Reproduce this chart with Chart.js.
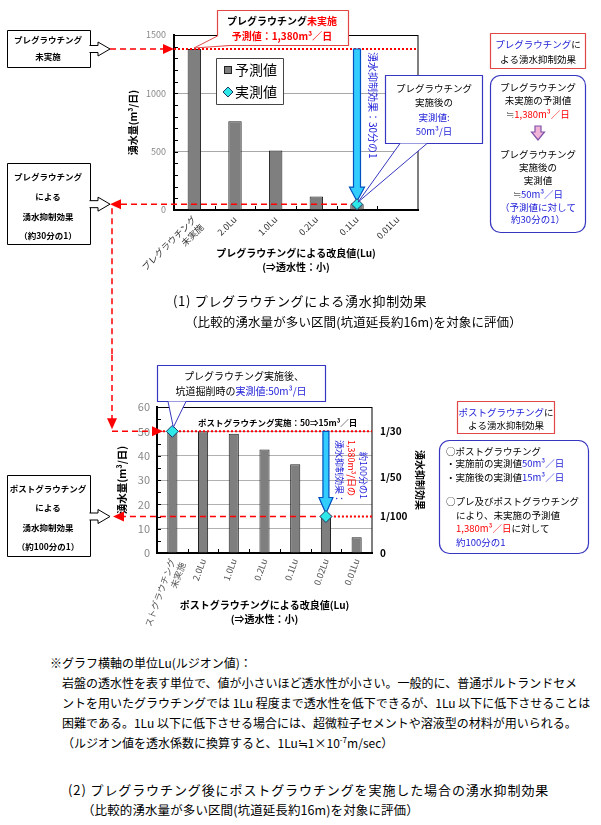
<!DOCTYPE html>
<html>
<head>
<meta charset="utf-8">
<script src="https://cdn.jsdelivr.net/npm/chart.js@4.4.0/dist/chart.umd.min.js"></script>
<style>
body { margin:0; background:#fff; width:601px; height:825px; position:relative; overflow:hidden; font-family:'Noto Sans CJK JP', sans-serif; }
canvas { position:absolute; left:0; }
#preChart { top:0; }
#postChart { top:355px; }
.txt { position:absolute; white-space:pre; color:#000; font-size:13px; line-height:20px; }
.txt sup { font-size:8px; line-height:0; }
</style>
</head>
<body>
<canvas id="preChart" width="601" height="355"></canvas>
<canvas id="postChart" width="601" height="285"></canvas>

<div class="txt" style="left:173px;top:291px;letter-spacing:0.7px">(1) プレグラウチングによる湧水抑制効果</div>
<div class="txt" style="left:185px;top:312px;font-size:12.5px;letter-spacing:0.1px">（比較的湧水量が多い区間(坑道延長約16m)を対象に評価）</div>

<div class="txt" style="left:50px;top:653px;font-size:12px">※グラフ横軸の単位Lu(ルジオン値)：</div>
<div class="txt" style="left:62px;top:673px;font-size:12px">岩盤の透水性を表す単位で、値が小さいほど透水性が小さい。一般的に、普通ポルトランドセメ</div>
<div class="txt" style="left:62px;top:693px;font-size:12px">ントを用いたグラウチングでは 1Lu 程度まで透水性を低下できるが、1Lu 以下に低下させることは</div>
<div class="txt" style="left:62px;top:713px;font-size:12px">困難である。1Lu 以下に低下させる場合には、超微粒子セメントや溶液型の材料が用いられる。</div>
<div class="txt" style="left:62px;top:733px;font-size:12px">（ルジオン値を透水係数に換算すると、1Lu≒1×10<sup>-7</sup>m/sec）</div>

<div class="txt" style="left:68px;top:780px;letter-spacing:0.9px">(2) プレグラウチング後にポストグラウチングを実施した場合の湧水抑制効果</div>
<div class="txt" style="left:82px;top:800px;font-size:12.5px;letter-spacing:0.1px">（比較的湧水量が多い区間(坑道延長約16m)を対象に評価）</div>

<script>
// (1) pre-grouting chart data
const preLabels = [['プレグラウチング', '未実施'], '2.0Lu', '1.0Lu', '0.2Lu', '0.1Lu', '0.01Lu'];
const prePredicted = [1380, 760, 510, 115, 50, 5];
const preMeasured = [null, null, null, null, 50, null];
const preYTicks = [0, 500, 1000, 1500];

// (2) post-grouting chart data
const postLabels = [['ポストグラウチング', '未実施'], '2.0Lu', '1.0Lu', '0.2Lu', '0.1Lu', '0.02Lu', '0.01Lu'];
const postPredicted = [50, 50, 49, 42.5, 36.5, 15, 6.5];
const postMeasured = [50, null, null, null, null, 15, null];
const postYTicks = [0, 10, 20, 30, 40, 50, 60];
const ratioTicks = [0, 15, 31, 50];
const ratioLabels = ['0', '1/100', '1/50', '1/30'];

const JP = "'Noto Sans CJK JP', sans-serif";
const RED = '#ff0000';
const BLUE = '#1c1cd8';
const BOXBLUE = '#3636c0';
const BOXRED = '#e04848';
const CYAN = '#2ee8e8';

Chart.defaults.font.family = JP;

// ---- drawing helpers ----
function rich(ctx, segs, x, y, align) {
  align = align || 'center';
  let total = 0;
  segs.forEach(s => { total += ctx.measureText(s[0]).width; });
  let cx = align === 'center' ? x - total / 2 : (align === 'right' ? x - total : x);
  ctx.textAlign = 'left';
  ctx.textBaseline = 'middle';
  segs.forEach(s => {
    ctx.fillStyle = s[1];
    ctx.fillText(s[0], cx, y);
    cx += ctx.measureText(s[0]).width;
  });
}

function vText(ctx, segs, x, y) {
  ctx.save();
  ctx.translate(x, y);
  ctx.rotate(Math.PI / 2);
  rich(ctx, segs, 0, 0, 'left');
  ctx.restore();
}

function roundRect(ctx, x, y, w, h, r) {
  ctx.beginPath();
  ctx.moveTo(x + r, y);
  ctx.arcTo(x + w, y, x + w, y + h, r);
  ctx.arcTo(x + w, y + h, x, y + h, r);
  ctx.arcTo(x, y + h, x, y, r);
  ctx.arcTo(x, y, x + w, y, r);
  ctx.closePath();
}

function noteBox(ctx, x, y, w, h, color, lw, r) {
  ctx.save();
  roundRect(ctx, x + 0.5, y + 0.5, w, h, r || 0.01);
  ctx.fillStyle = '#fff';
  ctx.fill();
  ctx.strokeStyle = color;
  ctx.lineWidth = lw || 1;
  ctx.stroke();
  ctx.restore();
}

function tail(ctx, p0, tip, p2, color) {
  ctx.save();
  ctx.beginPath();
  ctx.moveTo(p0[0], p0[1]);
  ctx.lineTo(tip[0], tip[1]);
  ctx.lineTo(p2[0], p2[1]);
  ctx.fillStyle = '#fff';
  ctx.fill();
  ctx.strokeStyle = color;
  ctx.lineWidth = 1;
  ctx.stroke();
  ctx.restore();
}

function hollowArrow(ctx, x0, y, x1) {
  ctx.save();
  ctx.beginPath();
  ctx.moveTo(x0, y - 3.5);
  ctx.lineTo(x1 - 12, y - 3.5);
  ctx.lineTo(x1 - 12, y - 7);
  ctx.lineTo(x1, y);
  ctx.lineTo(x1 - 12, y + 7);
  ctx.lineTo(x1 - 12, y + 3.5);
  ctx.lineTo(x0, y + 3.5);
  ctx.fillStyle = '#fff';
  ctx.fill();
  ctx.strokeStyle = '#000';
  ctx.lineWidth = 1;
  ctx.stroke();
  ctx.restore();
}

function redLine(ctx, x0, y0, x1, y1, dotted) {
  ctx.save();
  ctx.beginPath();
  ctx.moveTo(x0, y0);
  ctx.lineTo(x1, y1);
  ctx.strokeStyle = RED;
  ctx.lineWidth = dotted ? 2 : 1.5;
  ctx.setLineDash(dotted ? [2, 2] : [6, 4]);
  ctx.stroke();
  ctx.restore();
}

function redHead(ctx, x, y, dir) {
  // dir: 'right' | 'left' | 'down', (x,y) is the tip
  ctx.save();
  ctx.beginPath();
  if (dir === 'right') { ctx.moveTo(x, y); ctx.lineTo(x - 11, y - 5); ctx.lineTo(x - 11, y + 5); }
  if (dir === 'left') { ctx.moveTo(x, y); ctx.lineTo(x + 11, y - 5); ctx.lineTo(x + 11, y + 5); }
  if (dir === 'down') { ctx.moveTo(x, y); ctx.lineTo(x - 5, y - 11); ctx.lineTo(x + 5, y - 11); }
  ctx.closePath();
  ctx.fillStyle = RED;
  ctx.fill();
  ctx.restore();
}

function blockArrow(ctx, x, y0, y1, fill, stroke, sw, hw, hh) {
  ctx.save();
  ctx.beginPath();
  ctx.moveTo(x - sw, y0);
  ctx.lineTo(x + sw, y0);
  ctx.lineTo(x + sw, y1 - hh);
  ctx.lineTo(x + hw, y1 - hh);
  ctx.lineTo(x, y1);
  ctx.lineTo(x - hw, y1 - hh);
  ctx.lineTo(x - sw, y1 - hh);
  ctx.closePath();
  ctx.fillStyle = fill;
  ctx.fill();
  ctx.strokeStyle = stroke;
  ctx.lineWidth = 1.2;
  ctx.stroke();
  ctx.restore();
}

function boxLabel(ctx, scale, index, color, padX) {
  const item = scale.getLabelItems()[index];
  const o = item.options;
  ctx.save();
  ctx.font = item.font.string;
  const w = ctx.measureText(item.label).width;
  const h = item.font.size + 3;
  ctx.translate(o.translation[0], o.translation[1]);
  ctx.rotate(o.rotation);
  const x0 = o.textAlign === 'right' ? -w : (o.textAlign === 'center' ? -w / 2 : 0);
  ctx.strokeStyle = color;
  ctx.lineWidth = 1.5;
  ctx.strokeRect(x0 - padX, o.textOffset - h / 2 - 1, w + padX * 2, h + 2);
  ctx.restore();
}

function minorTicks(ctx, chart, step, max) {
  const a = chart.chartArea, x = chart.scales.x, y = chart.scales.y;
  ctx.save();
  ctx.strokeStyle = '#000';
  ctx.lineWidth = 1;
  ctx.beginPath();
  for (let v = step; v < max; v += step) {
    const py = Math.round(y.getPixelForValue(v)) + 0.5;
    ctx.moveTo(a.left, py);
    ctx.lineTo(a.left + 4, py);
  }
  const n = chart.data.labels.length;
  for (let i = 1; i < n; i++) {
    const px = Math.round((x.getPixelForValue(i - 1) + x.getPixelForValue(i)) / 2) + 0.5;
    ctx.moveTo(px, a.bottom);
    ctx.lineTo(px, a.bottom - 4);
  }
  ctx.stroke();
  // frame top/right
  ctx.strokeRect(a.left, Math.round(a.top) + 0.5, a.right - a.left, a.bottom - a.top);
  ctx.restore();
}

// ---- chart (1) notes ----
const preNotes = {
  id: 'preNotes',
  afterDatasetDraw(chart, args) {
    if (args.index !== 0) return;
    const ctx = chart.ctx, a = chart.chartArea, x = chart.scales.x, y = chart.scales.y;
    const yTop = y.getPixelForValue(prePredicted[0]);
    const yMeas = y.getPixelForValue(preMeasured[4]);
    const xMeas = x.getPixelForValue(4);
    minorTicks(ctx, chart, 100, 1500);

    redLine(ctx, 110, yTop, a.left - 8, yTop);
    redHead(ctx, a.left, yTop, 'right');
    redLine(ctx, a.left, yTop, a.right, yTop, true);

    redLine(ctx, xMeas, yMeas, 118, yMeas);
    redHead(ctx, 110, yMeas, 'left');
    redLine(ctx, 112, yMeas + 4, 112, chart.height);

    blockArrow(ctx, xMeas, yTop, yMeas - 3, '#33ccff', '#0050c0', 3.5, 7.5, 14);
  },
  afterDraw(chart) {
    const ctx = chart.ctx, x = chart.scales.x, y = chart.scales.y;
    const yTop = y.getPixelForValue(prePredicted[0]);
    const yMeas = y.getPixelForValue(preMeasured[4]);
    const xMeas = x.getPixelForValue(4);

    // left notes
    noteBox(ctx, 7, 30, 83, 37, '#000');
    hollowArrow(ctx, 89.5, yTop, 110);
    ctx.font = 'bold 8.5px ' + JP;
    rich(ctx, [['プレグラウチング', '#000']], 48, 40);
    rich(ctx, [['未実施', '#000']], 48, 57);

    noteBox(ctx, 7, 163, 83, 81, '#000');
    hollowArrow(ctx, 89.5, yMeas, 110);
    rich(ctx, [['プレグラウチング', '#000']], 48, 177);
    rich(ctx, [['による', '#000']], 48, 197);
    rich(ctx, [['湧水抑制効果', '#000']], 48, 217);
    rich(ctx, [['（約30分の1）', '#000']], 48, 236);

    // predicted value callout
    noteBox(ctx, 217, 10, 131, 35, BOXRED, 1.2);
    tail(ctx, [217.5, 36], [194, yTop - 1], [230, 45.5], BOXRED);
    ctx.font = 'bold 10px ' + JP;
    rich(ctx, [['プレグラウチング', '#000'], ['未実施', RED]], 282, 21);
    rich(ctx, [['予測値：1,380m³／日', RED]], 282, 36);

    // legend
    noteBox(ctx, 216, 58, 67, 46, '#444');
    ctx.fillStyle = '#7f7f7f';
    ctx.fillRect(224, 66, 8, 8);
    ctx.strokeStyle = '#222';
    ctx.strokeRect(224.5, 66.5, 7, 7);
    ctx.save();
    ctx.beginPath();
    ctx.moveTo(228, 87); ctx.lineTo(233, 92); ctx.lineTo(228, 97); ctx.lineTo(223, 92);
    ctx.closePath();
    ctx.fillStyle = CYAN; ctx.fill();
    ctx.strokeStyle = '#1a3a6a'; ctx.stroke();
    ctx.restore();
    ctx.font = '14px ' + JP;
    rich(ctx, [[chart.data.datasets[0].label, '#000']], 235, 70, 'left');
    rich(ctx, [[chart.data.datasets[1].label, '#000']], 235, 92, 'left');

    // effect text along the arrow
    ctx.font = '10px ' + JP;
    vText(ctx, [['湧水抑制効果：30分の1', BLUE]], 373, 52);

    // measured value callout
    noteBox(ctx, 385, 75, 97, 68, BOXBLUE, 1.2);
    tail(ctx, [400, 143.5], [xMeas + 1, yMeas - 2], [427, 143.5], BOXBLUE);
    ctx.font = '9.5px ' + JP;
    rich(ctx, [['プレグラウチング', '#000']], 434, 88);
    rich(ctx, [['実施後の', '#000']], 434, 102);
    rich(ctx, [['実測値:', BLUE]], 434, 117);
    rich(ctx, [['50m³/日', BLUE]], 434, 131);

    // 0.1Lu label box
    boxLabel(ctx, x, 4, BOXBLUE, 4);

    // right summary
    noteBox(ctx, 490, 33, 95, 35, BOXRED, 1.2);
    ctx.font = '9.5px ' + JP;
    rich(ctx, [['プレグラウチング', BLUE], ['に', '#000']], 538, 44);
    rich(ctx, [['よる湧水抑制効果', '#000']], 538, 59);

    noteBox(ctx, 490, 75, 95, 157, BOXBLUE, 1.2, 10);
    rich(ctx, [['プレグラウチング', '#000']], 538, 87);
    rich(ctx, [['未実施の予測値', '#000']], 538, 100);
    rich(ctx, [['≒', '#888'], ['1,380m³／日', RED]], 538, 114);
    blockArrow(ctx, 538, 126, 140, '#f0b4d8', '#8050a8', 3, 6.5, 8);
    rich(ctx, [['プレグラウチング', '#000']], 538, 154);
    rich(ctx, [['実施後の', '#000']], 538, 167);
    rich(ctx, [['実測値', '#000']], 538, 180);
    rich(ctx, [['≒', '#888'], ['50m³／日', BLUE]], 538, 194);
    rich(ctx, [['（予測値に対して', BLUE]], 538, 207);
    rich(ctx, [['約30分の1）', BLUE]], 538, 219);
  }
};

// ---- chart (2) notes ----
const TOP2 = 355;
const postNotes = {
  id: 'postNotes',
  afterDatasetDraw(chart, args) {
    if (args.index !== 0) return;
    const ctx = chart.ctx, a = chart.chartArea, x = chart.scales.x, y = chart.scales.y;
    const y50 = y.getPixelForValue(postMeasured[0]);
    const y15 = y.getPixelForValue(postMeasured[5]);
    const x15 = x.getPixelForValue(5);
    minorTicks(ctx, chart, 5, 60);

    redLine(ctx, 112, 0, 112, y50 - 12);
    redHead(ctx, 112, y50 - 2, 'down');
    redLine(ctx, 112, y50, a.left - 4, y50);
    redHead(ctx, a.left + 6, y50, 'right');
    redLine(ctx, a.left + 6, y50, a.right, y50, true);

    redLine(ctx, x15, y15, 121, y15);
    redHead(ctx, 113, y15, 'left');
    redLine(ctx, x15, y15, a.right, y15, true);

    blockArrow(ctx, x15, y50, y15 - 3, '#33ccff', '#0050c0', 3, 7, 16);
  },
  afterDraw(chart) {
    const ctx = chart.ctx, x = chart.scales.x, y = chart.scales.y, y2 = chart.scales.y2;
    const y50 = y.getPixelForValue(postMeasured[0]);
    const y15 = y.getPixelForValue(postMeasured[5]);
    const x50 = x.getPixelForValue(0);
    const P = v => v - TOP2;

    // left note
    noteBox(ctx, 7, P(475), 83, 81, '#000');
    hollowArrow(ctx, 89.5, y15, 110);
    ctx.font = 'bold 8.5px ' + JP;
    rich(ctx, [['ポストグラウチング', '#000']], 48, P(489));
    rich(ctx, [['による', '#000']], 48, P(508));
    rich(ctx, [['湧水抑制効果', '#000']], 48, P(528));
    rich(ctx, [['（約100分の1）', '#000']], 48, P(547));

    // measured value callout
    noteBox(ctx, 157, P(365), 168, 36, BOXBLUE, 1.2);
    tail(ctx, [168, P(401.5)], [x50 + 1, y50 - 4], [186, P(401.5)], BOXBLUE);
    ctx.font = '10px ' + JP;
    rich(ctx, [['プレグラウチング実施後、', '#000']], 244, P(376));
    rich(ctx, [['坑道掘削時の', '#000'], ['実測値:50m³/日', BLUE]], 241, P(391));

    ctx.font = 'bold 8.5px ' + JP;
    rich(ctx, [['ポストグラウチング実施：50⇒15m³／日', '#000']], 198, P(423), 'left');

    // effect text along the arrow
    ctx.font = '9px ' + JP;
    vText(ctx, [['湧水抑制効果：', BLUE]], 339, P(440));
    vText(ctx, [['1,380m³/日の', RED]], 351, P(440));
    vText(ctx, [['約100分の1', BLUE]], 363, P(452));

    // boxed labels
    boxLabel(ctx, x, 5, BOXBLUE, 3);
    boxLabel(ctx, y2, ratioLabels.indexOf('1/30'), BOXRED, 3);
    boxLabel(ctx, y2, ratioLabels.indexOf('1/100'), BOXRED, 3);

    // right summary
    noteBox(ctx, 457, P(401), 97, 32, BOXRED, 1.2);
    ctx.font = '9.5px ' + JP;
    rich(ctx, [['ポストグラウチング', BLUE], ['に', '#000']], 506, P(412));
    rich(ctx, [['よる湧水抑制効果', '#000']], 506, P(425));

    noteBox(ctx, 439, P(440), 149, 113, BOXBLUE, 1.2, 10);
    rich(ctx, [['○ポストグラウチング', '#000']], 446, P(451), 'left');
    rich(ctx, [['・実施前の実測値', '#000'], ['50m³／日', BLUE]], 446, P(463), 'left');
    rich(ctx, [['・実施後の実測値', '#000'], ['15m³／日', BLUE]], 446, P(477), 'left');
    rich(ctx, [['○プレ及びポストグラウチング', '#000']], 446, P(501), 'left');
    rich(ctx, [['により、未実施の予測値', '#000']], 456, P(515), 'left');
    rich(ctx, [['1,380m³／日', RED], ['に対して', '#000']], 456, P(528), 'left');
    rich(ctx, [['約100分の1', BLUE]], 456, P(542), 'left');
  }
};

// ---- chart (1) ----
new Chart(document.getElementById('preChart'), {
  type: 'bar',
  data: {
    labels: preLabels,
    datasets: [
      {
        type: 'bar', label: '予測値', data: prePredicted,
        backgroundColor: '#7f7f7f', borderColor: '#222', borderWidth: 1,
        barPercentage: 0.33, categoryPercentage: 1, order: 2
      },
      {
        type: 'line', label: '実測値', data: preMeasured, showLine: false,
        pointStyle: 'rectRot', pointRadius: 5.5, pointBackgroundColor: CYAN,
        pointBorderColor: '#1a3a6a', pointBorderWidth: 1, order: 1
      }
    ]
  },
  options: {
    responsive: false, animation: false, devicePixelRatio: 1,
    layout: { padding: { left: 123, right: 183, top: 35, bottom: 81 } },
    plugins: { legend: { display: false }, tooltip: { enabled: false } },
    scales: {
      x: {
        grid: { display: false, drawTicks: false },
        border: { color: '#000', width: 2 },
        ticks: { autoSkip: false, minRotation: 45, maxRotation: 45, padding: 4, color: '#333', font: { size: 9 } },
        title: {
          display: true, text: ['プレグラウチングによる改良値(Lu)', '(⇒透水性：小)'],
          color: '#000', font: { size: 10, weight: 'bold', lineHeight: 1.4 }, padding: { top: 0, bottom: 0 }
        },
        afterFit(s) { s.height = 64; }
      },
      y: {
        min: 0, max: 1500,
        afterBuildTicks(s) { s.ticks = preYTicks.map(v => ({ value: v })); },
        grid: { color: '#a8a8a8', drawTicks: false },
        border: { color: '#000', width: 2 },
        ticks: { padding: 8, color: '#888', font: { size: 9 }, callback: v => String(v) },
        title: { display: true, text: '湧水量(m³/日)', color: '#000', font: { size: 10, weight: 'bold' } },
        afterFit(s) { s.width = 51; }
      }
    }
  },
  plugins: [preNotes]
});

// ---- chart (2) ----
new Chart(document.getElementById('postChart'), {
  type: 'bar',
  data: {
    labels: postLabels,
    datasets: [
      {
        type: 'bar', label: '予測値', data: postPredicted,
        backgroundColor: '#7f7f7f', borderColor: '#222', borderWidth: 1,
        barPercentage: 0.33, categoryPercentage: 1, order: 2
      },
      {
        type: 'line', label: '実測値', data: postMeasured, showLine: false,
        pointStyle: 'rectRot', pointRadius: 6, pointBackgroundColor: CYAN,
        pointBorderColor: '#1a3a6a', pointBorderWidth: 1, order: 1
      }
    ]
  },
  options: {
    responsive: false, animation: false, devicePixelRatio: 1,
    layout: { padding: { left: 112, right: 171, top: 52, bottom: 14 } },
    plugins: { legend: { display: false }, tooltip: { enabled: false } },
    scales: {
      x: {
        grid: { display: false, drawTicks: false },
        border: { color: '#000', width: 2 },
        ticks: { autoSkip: false, minRotation: 70, maxRotation: 70, padding: 4, color: '#555', font: { size: 9 } },
        title: {
          display: true, text: ['ポストグラウチングによる改良値(Lu)', '(⇒透水性：小)'],
          color: '#000', font: { size: 10, weight: 'bold', lineHeight: 1.4 }, padding: { top: 0, bottom: 0 }
        },
        afterFit(s) { s.height = 73; }
      },
      y: {
        min: 0, max: 60,
        afterBuildTicks(s) { s.ticks = postYTicks.map(v => ({ value: v })); },
        grid: { color: '#b0b0b0', drawTicks: false },
        border: { color: '#000', width: 2 },
        ticks: { padding: 7, color: '#888', font: { size: 11 }, callback: v => String(v) },
        title: { display: true, text: '湧水量(m³/日)', color: '#000', font: { size: 10.5, weight: 'bold' } },
        afterFit(s) { s.width = 45; }
      },
      y2: {
        position: 'right', min: 0, max: 60,
        afterBuildTicks(s) { s.ticks = ratioTicks.map(v => ({ value: v })); },
        grid: { display: false, drawTicks: false },
        border: { display: false },
        ticks: {
          padding: 8, color: '#000', font: { size: 10, weight: 'bold' },
          callback: (v) => ratioLabels[ratioTicks.indexOf(v)]
        },
        title: { display: true, text: '湧水抑制効果', color: '#000', font: { size: 10, weight: 'bold' } },
        afterFit(s) { s.width = 58; }
      }
    }
  },
  plugins: [postNotes]
});
</script>
</body>
</html>
